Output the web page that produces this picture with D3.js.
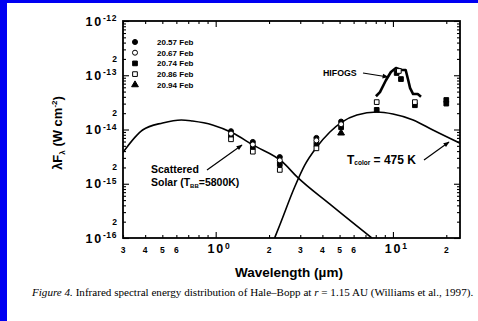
<!DOCTYPE html>
<html>
<head>
<meta charset="utf-8">
<script src="https://d3js.org/d3.v7.min.js"></script>
<style>
body { margin: 0; background: #fff; }
svg { display: block; }
text { font-family: 'Liberation Sans', Arial, Helvetica, sans-serif; font-weight: bold; fill: #000; }
.caption { font-family: 'Liberation Serif', 'Times New Roman', serif; font-weight: normal; }
</style>
</head>
<body>
<svg id="chart" width="478" height="321"></svg>
<script>
// --- data ---
var dates = ['20.57 Feb', '20.67 Feb', '20.74 Feb', '20.86 Feb', '20.94 Feb'];
var symbolKinds = ['circle', 'circle', 'square', 'square', 'triangle'];
var symbolFilled = [true, false, true, false, true];

// photometry per date (wavelength um, lambda F lambda W cm-2)
var wl2057 = [1.22, 1.62, 2.3, 3.7, 5.1];
var fl2057 = [9.3e-15, 5.9e-15, 3.1e-15, 7.0e-15, 1.4e-14];
var wl2067 = [1.22, 1.62, 2.3, 3.7, 5.1];
var fl2067 = [8.4e-15, 5.3e-15, 2.7e-15, 6.3e-15, 1.25e-14];
var wl2074 = [1.22, 1.62, 2.3, 3.7, 5.1, 8.1, 10.5, 11.1, 13.3, 20, 20];
var fl2074 = [7.7e-15, 4.7e-15, 2.3e-15, 5.4e-15, 1.1e-14, 2.3e-14, 1.1e-13, 8.5e-14, 2.8e-14, 3.5e-14, 3.0e-14];
var wl2086 = [1.22, 1.62, 2.3, 3.7, 8.1, 10.8, 13.3];
var fl2086 = [6.6e-15, 3.9e-15, 1.8e-15, 4.5e-15, 3.2e-14, 1.2e-13, 3.2e-14];
var wl2094 = [5.1];
var fl2094 = [8.6e-15];

// HIFOGS spectrum
var hifWl = [8.02, 8.45, 9.13, 9.74, 10.4, 11.2, 11.8, 12.2, 12.5, 13.0, 13.8, 14.4];
var hifFl = [4.1e-14, 4.9e-14, 8.1e-14, 1.15e-13, 1.36e-13, 1.25e-13, 1.25e-13, 8.1e-14, 5.8e-14, 4.5e-14, 4.5e-14, 4.0e-14];

// scattered solar curve (5800 K)
var solarWl = [0.3, 0.387, 0.502, 0.64, 0.74, 0.96, 1.25, 1.62, 2.39, 2.87, 4.41, 7.6];
var solarFl = [3.8e-15, 9.8e-15, 1.32e-14, 1.5e-14, 1.43e-14, 1.21e-14, 8.6e-15, 5.2e-15, 2.5e-15, 1.35e-15, 4.2e-16, 1.0e-16];

// thermal curve (475 K)
var dustWl = [2.15, 2.30, 2.79, 3.18, 3.72, 4.41, 5.15, 6.26, 8.12, 10, 13.0, 16.8, 23.9];
var dustFl = [1.0e-16, 1.74e-16, 8.7e-16, 2.2e-15, 4.75e-15, 9.0e-15, 1.37e-14, 1.85e-14, 2.1e-14, 1.93e-14, 1.5e-14, 9.8e-15, 5.6e-15];

// axis ticks
var xMajor = [1, 10];
var xMinor = [0.3, 0.4, 0.5, 0.6, 0.7, 0.8, 0.9, 2, 3, 4, 5, 6, 7, 8, 9, 20];
var xTickLabels = [0.3, 0.4, 0.5, 0.6, 1, 2, 3, 4, 5, 6, 10, 20];
var yMajor = [1e-16, 1e-15, 1e-14, 1e-13, 1e-12];
var yTickLabels = [1e-16, 2e-16, 1e-15, 2e-15, 1e-14, 2e-14, 1e-13, 2e-13, 1e-12];

var svg = d3.select('#chart');
var W = 478, H = 321;
var pLeft = 123, pRight = 460, pTop = 21, pBottom = 238;

svg.append('rect').attr('width', W).attr('height', H).attr('fill', '#fff');
svg.append('rect').attr('x', 0).attr('y', 0).attr('width', 7).attr('height', H).attr('fill', '#0000f2');
svg.append('rect').attr('x', 0).attr('y', 0).attr('width', W).attr('height', 3).attr('fill', '#0000f2');

var x = d3.scaleLog().domain([0.3, 23.9]).range([pLeft, pRight]);
var y = d3.scaleLog().domain([1e-16, 1e-12]).range([pBottom, pTop]);

var yMinor = [];
yMajor.slice(0, -1).forEach(function (d) {
    for (var k = 2; k <= 9; k++) yMinor.push(d * k);
});

// --- inward ticks on all four sides ---
function tickAxis(gen, vals, len, transform) {
    var g = svg.append('g').attr('transform', transform)
        .call(gen.tickValues(vals).tickSize(-len).tickFormat(''));
    g.select('.domain').remove();
    g.selectAll('line').attr('stroke', '#000').attr('stroke-width', 1.1);
}
tickAxis(d3.axisBottom(x), xMinor, 3, 'translate(0,' + pBottom + ')');
tickAxis(d3.axisBottom(x), xMajor, 6, 'translate(0,' + pBottom + ')');
tickAxis(d3.axisTop(x), xMinor, 3, 'translate(0,' + pTop + ')');
tickAxis(d3.axisTop(x), xMajor, 6, 'translate(0,' + pTop + ')');
tickAxis(d3.axisLeft(y), yMinor, 3, 'translate(' + pLeft + ',0)');
tickAxis(d3.axisLeft(y), yMajor, 6, 'translate(' + pLeft + ',0)');
tickAxis(d3.axisRight(y), yMinor, 3, 'translate(' + pRight + ',0)');
tickAxis(d3.axisRight(y), yMajor, 6, 'translate(' + pRight + ',0)');

svg.append('rect')
    .attr('x', pLeft).attr('y', pTop)
    .attr('width', pRight - pLeft).attr('height', pBottom - pTop)
    .attr('fill', 'none').attr('stroke', '#000').attr('stroke-width', 1.8);

function isDecade(v) {
    var e = Math.log10(v);
    return Math.abs(e - Math.round(e)) < 1e-9;
}

// y tick labels
yTickLabels.forEach(function (v) {
    var t = svg.append('text').attr('x', 117).attr('text-anchor', 'end');
    if (isDecade(v)) {
        t.attr('y', y(v) + 4.5);
        t.append('tspan').attr('font-size', 12.5).attr('letter-spacing', 1.8).text('10');
        t.append('tspan').attr('font-size', 8.5).attr('letter-spacing', 0.6).attr('dy', -4.5)
            .text(String(Math.round(Math.log10(v))));
    } else {
        t.attr('y', y(v) + 3).attr('font-size', 8.5)
            .text(String(Math.round(v / Math.pow(10, Math.floor(Math.log10(v))))));
    }
});

// x tick labels
xTickLabels.forEach(function (v) {
    var t = svg.append('text').attr('text-anchor', 'middle').attr('y', 253);
    if (isDecade(v)) {
        t.attr('x', x(v) + 3);
        t.append('tspan').attr('font-size', 12.5).attr('letter-spacing', 1.8).text('10');
        t.append('tspan').attr('font-size', 8.5).attr('dy', -4.5).text(String(Math.round(Math.log10(v))));
    } else {
        t.attr('x', x(v)).attr('font-size', 8.5)
            .text(String(Math.round(v / Math.pow(10, Math.floor(Math.log10(v))))));
    }
});

// --- curves ---
svg.append('clipPath').attr('id', 'plotClip').append('rect')
    .attr('x', pLeft).attr('y', pTop).attr('width', pRight - pLeft).attr('height', pBottom - pTop);
var plot = svg.append('g').attr('clip-path', 'url(#plotClip)');

var curveLine = d3.line()
    .x(function (d) { return x(d[0]); })
    .y(function (d) { return y(d[1]); })
    .curve(d3.curveMonotoneX);

plot.append('path').datum(d3.zip(solarWl, solarFl))
    .attr('d', curveLine).attr('fill', 'none').attr('stroke', '#000').attr('stroke-width', 1.6);
plot.append('path').datum(d3.zip(dustWl, dustFl))
    .attr('d', curveLine).attr('fill', 'none').attr('stroke', '#000').attr('stroke-width', 1.6);
plot.append('path').datum(d3.zip(hifWl, hifFl))
    .attr('d', d3.line().x(function (d) { return x(d[0]); }).y(function (d) { return y(d[1]); }))
    .attr('fill', 'none').attr('stroke', '#000').attr('stroke-width', 2.6).attr('stroke-linejoin', 'round');

// --- photometry ---
var series = [
    d3.zip(wl2057, fl2057), d3.zip(wl2067, fl2067), d3.zip(wl2074, fl2074),
    d3.zip(wl2086, fl2086), d3.zip(wl2094, fl2094)
];
var symType = { circle: d3.symbolCircle, square: d3.symbolSquare, triangle: d3.symbolTriangle };
var symSize = { circle: 20, square: 22, triangle: 20 };

function drawSymbol(g, i, px, py) {
    g.append('path')
        .attr('d', d3.symbol().type(symType[symbolKinds[i]]).size(symSize[symbolKinds[i]]))
        .attr('transform', 'translate(' + px + ',' + py + ')')
        .attr('fill', symbolFilled[i] ? '#000' : '#fff')
        .attr('stroke', '#000').attr('stroke-width', 1);
}
// draw open ones last so they stay visible
[0, 2, 4, 1, 3].forEach(function (i) {
    series[i].forEach(function (d) { drawSymbol(plot, i, x(d[0]), y(d[1])); });
});

// --- legend ---
dates.forEach(function (d, i) {
    var ly = 42 + i * 10.7;
    drawSymbol(svg, i, 135, ly);
    svg.append('text').attr('x', 157).attr('y', ly + 3).attr('font-size', 8).text(d);
});

// --- annotations ---
var defs = svg.append('defs');
defs.append('marker').attr('id', 'arrow')
    .attr('viewBox', '0 0 10 10').attr('refX', 9).attr('refY', 5)
    .attr('markerWidth', 8).attr('markerHeight', 6).attr('orient', 'auto')
    .attr('markerUnits', 'userSpaceOnUse')
    .append('path').attr('d', 'M0,1 L10,5 L0,9 Z').attr('fill', '#000');

function arrow(x1, y1, x2, y2) {
    svg.append('line').attr('x1', x1).attr('y1', y1).attr('x2', x2).attr('y2', y2)
        .attr('stroke', '#000').attr('stroke-width', 1.2).attr('marker-end', 'url(#arrow)');
}

svg.append('text').attr('x', 323).attr('y', 76).attr('font-size', 8.8).text('HIFOGS');
arrow(363, 73, 388, 77);

svg.append('text').attr('x', 151).attr('y', 173).attr('font-size', 10.5).text('Scattered');
var sol = svg.append('text').attr('x', 151).attr('y', 186).attr('font-size', 10.5);
sol.append('tspan').text('Solar (T');
sol.append('tspan').attr('font-size', 6).attr('dy', 2).text('BB');
sol.append('tspan').attr('dy', -2).text('=5800K)');
arrow(207, 170, 242, 145);

var tc = svg.append('text').attr('x', 347).attr('y', 164).attr('font-size', 12);
tc.append('tspan').text('T');
tc.append('tspan').attr('font-size', 6.5).attr('dy', 1).text('color');
tc.append('tspan').attr('dy', -1).text(' = 475 K');
arrow(424, 160, 449, 142);

// axis titles
svg.append('text').attr('x', 289).attr('y', 277).attr('text-anchor', 'middle')
    .attr('font-size', 13.5).text('Wavelength (\u00b5m)');

var yl = svg.append('text').attr('transform', 'translate(62,133) rotate(-90)')
    .attr('text-anchor', 'middle').attr('font-size', 13);
yl.append('tspan').text('\u03bbF');
yl.append('tspan').attr('font-size', 8).attr('dy', 3).text('\u03bb');
yl.append('tspan').attr('dy', -3).text(' (W cm');
yl.append('tspan').attr('font-size', 8).attr('dy', -5).text('-2');
yl.append('tspan').attr('dy', 5).text(')');

// caption
var cap = svg.append('text').attr('class', 'caption').attr('x', 32).attr('y', 296).attr('font-size', 11.1);
cap.append('tspan').attr('font-style', 'italic').text('Figure 4.');
cap.append('tspan').text(' Infrared spectral energy distribution of Hale\u2013Bopp at ');
cap.append('tspan').attr('font-style', 'italic').text('r');
cap.append('tspan').text(' = 1.15 AU (Williams et al., 1997).');
</script>
</body>
</html>
